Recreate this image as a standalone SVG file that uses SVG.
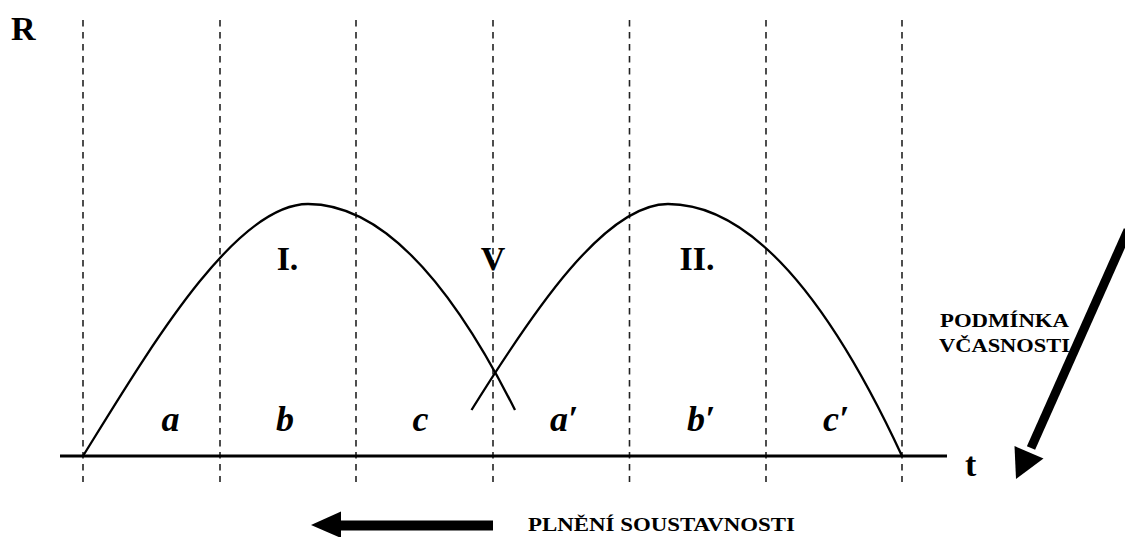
<svg xmlns="http://www.w3.org/2000/svg" width="1125" height="537" viewBox="0 0 1125 537">
<style>
.grid{stroke:#222;stroke-width:1.6;stroke-dasharray:6.5 5.5;fill:none}
.axis{stroke:#000;stroke-width:3;fill:none}
.curve{stroke:#000;stroke-width:2.3;fill:none}
.big{font-family:"Liberation Serif","Times New Roman",serif;font-weight:bold;font-size:34px;fill:#000}
.seg{font-family:"Liberation Serif","Times New Roman",serif;font-weight:bold;font-style:italic;font-size:36px;fill:#000;text-anchor:middle}
.small{font-family:"Liberation Serif","Times New Roman",serif;font-weight:bold;font-size:19px;fill:#000}
.shaft{stroke:#000;fill:none}
</style>
<rect width="1125" height="537" fill="#fff"/>
<g id="grid">
<line class="grid" x1="83" y1="20" x2="83" y2="482"/>
<line class="grid" x1="220" y1="20" x2="220" y2="482"/>
<line class="grid" x1="356" y1="20" x2="356" y2="482"/>
<line class="grid" x1="493" y1="20" x2="493" y2="482"/>
<line class="grid" x1="629.5" y1="20" x2="629.5" y2="482"/>
<line class="grid" x1="766" y1="20" x2="766" y2="482"/>
<line class="grid" x1="902" y1="20" x2="902" y2="482"/>
</g>
<g id="axis">
<line class="axis" x1="60" y1="456" x2="947" y2="456"/>
<text class="big" x="11" y="40">R</text>
<text class="big" x="965" y="476">t</text>
</g>
<g id="curve-I">
<path class="curve" d="M83,456 C150,348 235,204 308,204 Q411.5,204 515,410"/>
<text class="big" x="287.5" y="270" text-anchor="middle">I.</text>
</g>
<g id="curve-II">
<path class="curve" d="M471.5,410 C533,311.3 605,204 668,204 Q785,204 902,456"/>
<text class="big" x="697" y="270" text-anchor="middle">II.</text>
</g>
<g id="V">
<text class="big" x="493" y="270" text-anchor="middle">V</text>
</g>
<g id="segments">
<text class="seg" x="170.5" y="431">a</text>
<text class="seg" x="285" y="431">b</text>
<text class="seg" x="420.5" y="431">c</text>
<text class="seg" x="564" y="431">a′</text>
<text class="seg" x="701" y="431">b′</text>
<text class="seg" x="836" y="431">c′</text>
</g>
<g id="podminka">
<text class="small" x="940" y="327" textLength="129" lengthAdjust="spacingAndGlyphs">PODMÍNKA</text>
<text class="small" x="939" y="351.5" textLength="131" lengthAdjust="spacingAndGlyphs">VČASNOSTI</text>
</g>
<g id="plneni">
<text class="small" x="528" y="531" textLength="267" lengthAdjust="spacingAndGlyphs">PLNĚNÍ SOUSTAVNOSTI</text>
</g>
<g id="connectors">
<line class="shaft" stroke-width="9" x1="1128" y1="230" x2="1031" y2="448"/>
<polygon points="1016,479 1014.5,446 1043.5,458.5" fill="#000"/>
<rect x="339" y="520.5" width="154" height="10" fill="#000"/>
<polygon points="311,525 341,511.5 341,538" fill="#000"/>
</g>
</svg>
